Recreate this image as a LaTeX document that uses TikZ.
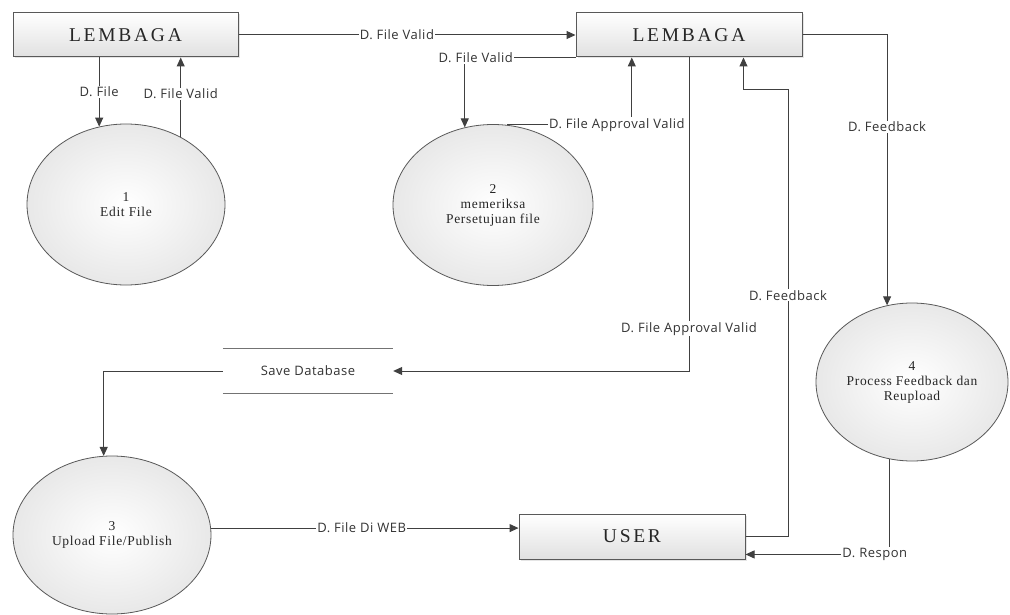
\documentclass[tikz,border=0pt]{standalone}
\usepackage{fontspec}
\setmainfont{Liberation Serif}
\newfontfamily\boxfont[LetterSpace=14]{Liberation Serif}
\newfontfamily\procfont[LetterSpace=5]{Liberation Serif}
\newfontfamily\lblfont[LetterSpace=4]{Open Sans}
\usetikzlibrary{arrows.meta,shapes.geometric,calc,shadows}
\begin{document}
\begin{tikzpicture}[x=1pt,y=-1pt,
 entity/.style={draw=black!65, line width=1pt, top color=white, bottom color=black!12,
   minimum width=225pt, minimum height=44pt, inner sep=0pt,
   font=\boxfont\fontsize{19.5}{21}\selectfont, text=black!85,
   drop shadow={opacity=0.2,shadow xshift=1.5pt,shadow yshift=-1.5pt}},
 proc/.style={ellipse, draw=black!65, line width=0.8pt, inner color=white, outer color=black!9,
   inner sep=0pt, align=center, font=\procfont\fontsize{13.5}{15}\selectfont, text=black!85},
 store/.style={minimum width=170pt, minimum height=45pt, inner sep=0pt,
   font=\lblfont\fontsize{13}{14}\selectfont, text=black!80},
 storeline/.style={draw=black!55, line width=1.5pt},
 flow/.style={draw=black!75, line width=1pt, -{Triangle[length=9pt,width=8pt]}},
 lbl/.style={fill=white, inner sep=1pt, font=\lblfont\fontsize{13}{14}\selectfont, text=black!80},
]
\useasboundingbox (0,0) rectangle (1010,615);
\fill[white] (0,0) rectangle (1010,615);

% entities
\node[entity] (L1) at (125.5,35) {LEMBAGA};
\node[entity, minimum width=226pt] (L2) at (689,35) {LEMBAGA};
\node[entity, minimum width=226pt, minimum height=45pt] (U) at (632,536.5) {USER};

% processes
\node[proc, minimum width=198pt, minimum height=161pt] (C1) at (126,204.5) {1\\Edit File};
\node[proc, minimum width=200pt, minimum height=161pt] (C2) at (493,205) {2\\memeriksa\\Persetujuan file};
\node[proc, minimum width=198pt, minimum height=158pt] (C3) at (112,535) {3\\Upload File/Publish};
\node[proc, minimum width=192pt, minimum height=158pt] (C4) at (912,382) {4\\Process Feedback dan\\Reupload};

% data store
\node[store] (SD) at (308,371) {Save Database};
\draw[storeline] (SD.north west) -- (SD.north east);
\draw[storeline] (SD.south west) -- (SD.south east);

% helper coordinates
\coordinate (a2) at ($(L2.south west)!0.248!(L2.south east)$);
\coordinate (fb1) at (788,90);
\coordinate (fb2) at ($(L2.south west)!0.74!(L2.south east)$);
\coordinate (u2) at ($(U.north east)!0.89!(U.south east)$);

% flows
\draw[flow] (L1) -- node[lbl,pos=0.47]{D. File Valid} (L2);
\draw[flow] (L1.south -| C1.109) -- node[lbl,pos=0.5]{D. File} (C1.109);
\draw[flow] (C1.51) -- node[lbl,pos=0.54]{D. File Valid} (L1.south -| C1.51);
\draw[flow] (L2.south west) -| node[lbl,pos=0.45]{D. File Valid} (C2.110);
\draw[flow] (C2.80) -| node[lbl,pos=0.44]{D. File Approval Valid} (a2);
\draw[flow] (L2.east) -| node[lbl,pos=0.67]{D. Feedback} (C4.108);
\draw[flow] (L2.south) |- node[lbl,pos=0.433]{D. File Approval Valid} (SD.east);
\draw[flow] (SD.west) -| (C3.96);
\draw[flow] (C3.4) -- node[lbl,pos=0.49]{D. File Di WEB} (C3.4 -| U.west);
\draw[flow] (U.east) -| node[lbl,pos=0.77]{D. Feedback} (fb1) -| (fb2);
\draw[flow] (C4.254) |- node[lbl,pos=0.552]{D. Respon} (u2);
\end{tikzpicture}
\end{document}
